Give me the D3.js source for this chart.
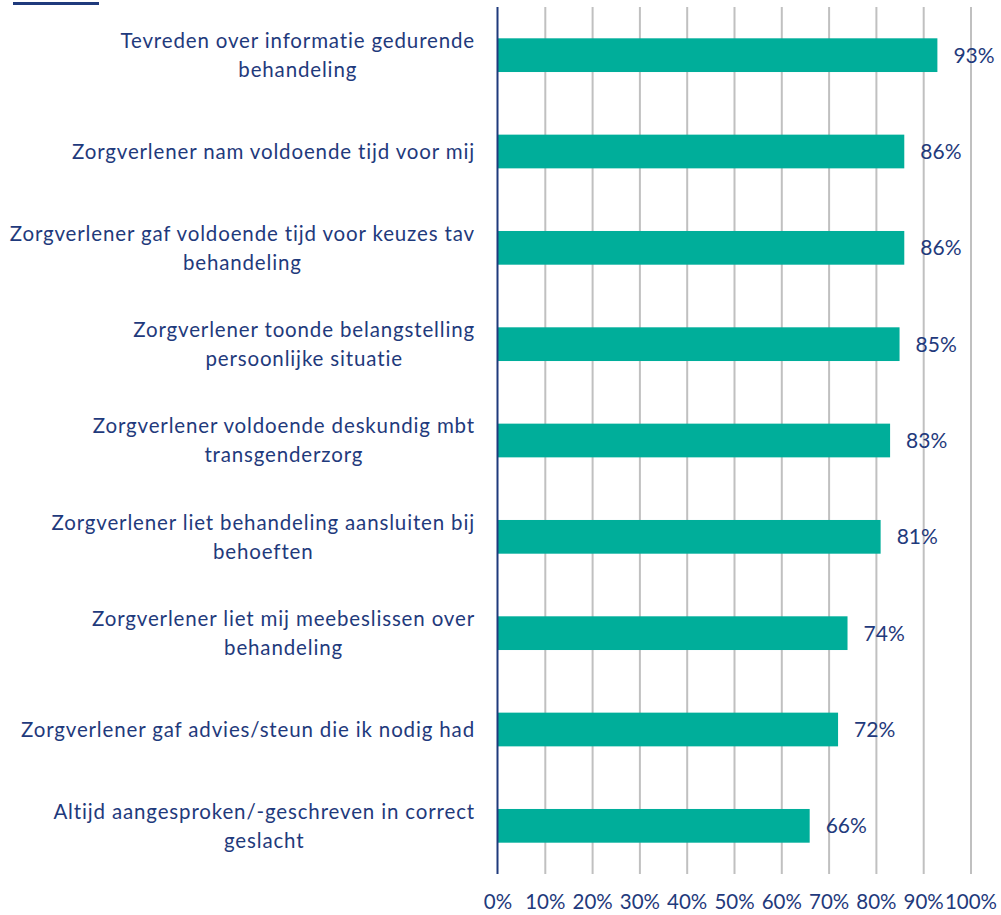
<!DOCTYPE html>
<html>
<head>
<meta charset="utf-8">
<script src="https://cdn.jsdelivr.net/npm/d3@7"></script>
<style>
  body { margin: 0; background: #fff; }
  text { font-family: Lato, "Open Sans", sans-serif; fill: #1f3a7c; }
</style>
</head>
<body>
<div id="chart"></div>
<script>
// categories (top to bottom), "\n" marks where the label wraps
var categories = [
  "Tevreden over informatie gedurende\nbehandeling",
  "Zorgverlener nam voldoende tijd voor mij",
  "Zorgverlener gaf voldoende tijd voor keuzes tav\nbehandeling",
  "Zorgverlener toonde belangstelling\npersoonlijke situatie",
  "Zorgverlener voldoende deskundig mbt\ntransgenderzorg",
  "Zorgverlener liet behandeling aansluiten bij\nbehoeften",
  "Zorgverlener liet mij meebeslissen over\nbehandeling",
  "Zorgverlener gaf advies/steun die ik nodig had",
  "Altijd aangesproken/-geschreven in correct\ngeslacht"
];
var values = [0.93, 0.86, 0.86, 0.85, 0.83, 0.81, 0.74, 0.72, 0.66];
var ticks = [0, 0.1, 0.2, 0.3, 0.4, 0.5, 0.6, 0.7, 0.8, 0.9, 1];

var width = 1001, height = 915;
var margin = {top: 7, right: 30, bottom: 41, left: 497.5};

var svg = d3.select("#chart").append("svg")
    .attr("width", width)
    .attr("height", height);

// little piece of a title underline cut off at the top
svg.append("rect")
    .attr("x", 13).attr("y", 2)
    .attr("width", 86).attr("height", 3)
    .attr("fill", "#1f3a7c");

var x = d3.scaleLinear().domain([0, 1]).range([margin.left, 970.5]);
var y = d3.scaleBand().domain(categories)
    .range([margin.top, height - margin.bottom])
    .paddingInner(0.65).paddingOuter(0.325);

// gridlines + tick labels
var xAxis = d3.axisBottom(x)
    .tickValues(ticks)
    .tickFormat(d3.format(".0%"))
    .tickSize(-(height - margin.bottom - margin.top))
    .tickPadding(20);

var gx = svg.append("g")
    .attr("transform", "translate(0," + (height - margin.bottom) + ")")
    .call(xAxis);
gx.select(".domain").remove();
gx.selectAll(".tick line")
    .attr("stroke", "#c0c0c0")
    .attr("stroke-width", 2)
    .filter(function(d) { return d === 0; }).remove();
gx.selectAll(".tick text")
    .style("font-size", "20.5px")
    .attr("fill", "#1f3a7c");

// bars
svg.selectAll("rect.bar")
    .data(values)
    .enter()
    .append("rect")
    .attr("class", "bar")
    .attr("x", x(0))
    .attr("y", function(d, i) { return y(categories[i]); })
    .attr("width", function(d) { return x(d) - x(0); })
    .attr("height", y.bandwidth())
    .attr("fill", "#00ae9a");

// value labels
svg.selectAll("text.val")
    .data(values)
    .enter()
    .append("text")
    .attr("class", "val")
    .attr("x", function(d) { return x(d) + 16; })
    .attr("y", function(d, i) { return y(categories[i]) + y.bandwidth() / 2; })
    .attr("dy", "0.35em")
    .style("font-size", "21px")
    .text(function(d) { return d3.format(".0%")(d); });

// y axis line
svg.append("line")
    .attr("x1", x(0)).attr("x2", x(0))
    .attr("y1", margin.top).attr("y2", height - margin.bottom)
    .attr("stroke", "#1f3a7c")
    .attr("stroke-width", 2);

// category labels: lines centred on each other, block right aligned
var labelRight = 475, lineH = 29;
categories.forEach(function(c, i) {
  var lines = c.split("\n");
  var t = svg.append("text")
      .style("font-size", "20.5px")
      .style("letter-spacing", "0.85px")
      .attr("text-anchor", "middle");
  var cy = y(c) + y.bandwidth() / 2 - (lines.length - 1) * lineH / 2;
  lines.forEach(function(l, j) {
    t.append("tspan")
      .attr("y", cy + j * lineH)
      .attr("dy", "0.35em")
      .text(l);
  });
  var w = d3.max(t.selectAll("tspan").nodes(), function(n) { return n.getComputedTextLength(); });
  t.selectAll("tspan").attr("x", labelRight - w / 2);
});
</script>
</body>
</html>
